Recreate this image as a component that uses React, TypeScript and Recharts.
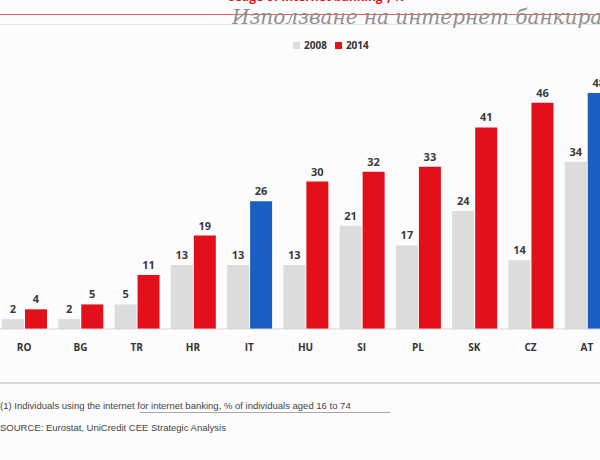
import React from 'react';
import { BarChart, Bar, XAxis, YAxis, Cell, LabelList, Legend } from 'recharts';

const countries = ['RO', 'BG', 'TR', 'HR', 'IT', 'HU', 'SI', 'PL', 'SK', 'CZ', 'AT'];
const values2008 = [2, 2, 5, 13, 13, 13, 21, 17, 24, 14, 34];
const values2014 = [4, 5, 11, 19, 26, 30, 32, 33, 41, 46, 48];
const highlighted = ['IT', 'AT'];

const GREY = '#dcdcdc';
const RED = '#e3101c';
const BLUE = '#1c5fc2';
const FONT = '"Open Sans", "Liberation Sans", Arial, sans-serif';

const data = countries.map((c, i) => ({ country: c, y2008: values2008[i], y2014: values2014[i] }));

const LegendBox = () => (
    <div style={{ display: 'flex', alignItems: 'center', fontFamily: FONT, fontSize: 10, fontWeight: 700, color: '#333' }}>
        <span style={{ width: 7, height: 7, background: GREY, marginRight: 4 }} />
        <span style={{ marginRight: 8 }}>2008</span>
        <span style={{ width: 7, height: 7, background: RED, marginRight: 4 }} />
        <span>2014</span>
    </div>
);

const App: React.FC = () => {
    return (
        <div style={{ position: 'absolute', left: 0, top: 0, width: 600, height: 460, overflow: 'hidden', background: '#fcfcfc' }}>
            {/* cut-off title and handwritten note */}
            <div style={{ position: 'absolute', left: 227, top: -12, fontFamily: FONT, fontSize: 12, fontWeight: 700, color: '#e3101c', whiteSpace: 'nowrap' }}>
                Usage of internet banking¹, %
            </div>
            <div style={{ position: 'absolute', left: 0, top: 14, width: 600, height: 1, background: '#e06060' }} />
            <div style={{ position: 'absolute', left: 0, top: 24, width: 600, height: 1, background: '#e4e4e4' }} />
            <div style={{ position: 'absolute', left: 232, top: 5, fontFamily: '"DejaVu Serif", serif', fontStyle: 'italic', fontSize: 20, color: '#909090', whiteSpace: 'nowrap' }}>
                Използване на интернет банкиране
            </div>

            <div style={{ position: 'absolute', left: -10, top: 0 }}>
                <BarChart width={640} height={460} data={data} margin={{ top: 93, right: 15, bottom: 87, left: 6 }} barCategoryGap={6} barGap={1}>
                    <XAxis
                        dataKey="country"
                        height={30}
                        axisLine={{ stroke: '#d4d4d4' }}
                        tickLine={false}
                        tickSize={0}
                        tickMargin={15}
                        interval={0}
                        tick={{ fill: '#333', fontSize: 10, fontWeight: 700, fontFamily: FONT }}
                    />
                    <YAxis hide domain={[0, 48]} />
                    <Legend
                        content={() => <LegendBox />}
                        wrapperStyle={{ position: 'absolute', top: 38, left: 303, width: 100 }}
                    />
                    <Bar dataKey="y2008" fill={GREY} isAnimationActive={false}>
                        <LabelList dataKey="y2008" position="top" offset={6} fill="#3a3a3a" fontSize={11} fontWeight={700} fontFamily={FONT} />
                    </Bar>
                    <Bar dataKey="y2014" fill={RED} isAnimationActive={false}>
                        {data.map((d) => (
                            <Cell key={d.country} fill={highlighted.includes(d.country) ? BLUE : RED} />
                        ))}
                        <LabelList dataKey="y2014" position="top" offset={6} fill="#3a3a3a" fontSize={11} fontWeight={700} fontFamily={FONT} />
                    </Bar>
                </BarChart>
            </div>

            {/* footer */}
            <div style={{ position: 'absolute', left: 0, top: 382, width: 600, height: 1.5, background: '#d8d8d8' }} />
            <div style={{ position: 'absolute', left: 0, top: 400, fontFamily: '"Liberation Sans", Arial, sans-serif', fontSize: 9.5, color: '#444', whiteSpace: 'nowrap' }}>
                (1) Individuals using the internet for internet banking, % of individuals aged 16 to 74
            </div>
            <div style={{ position: 'absolute', left: 140, top: 412, width: 250, height: 1, background: '#a8a8a8' }} />
            <div style={{ position: 'absolute', left: 0, top: 422, fontFamily: '"Liberation Sans", Arial, sans-serif', fontSize: 9.5, color: '#444', whiteSpace: 'nowrap' }}>
                SOURCE: Eurostat, UniCredit CEE Strategic Analysis
            </div>
        </div>
    );
};

export default App;
